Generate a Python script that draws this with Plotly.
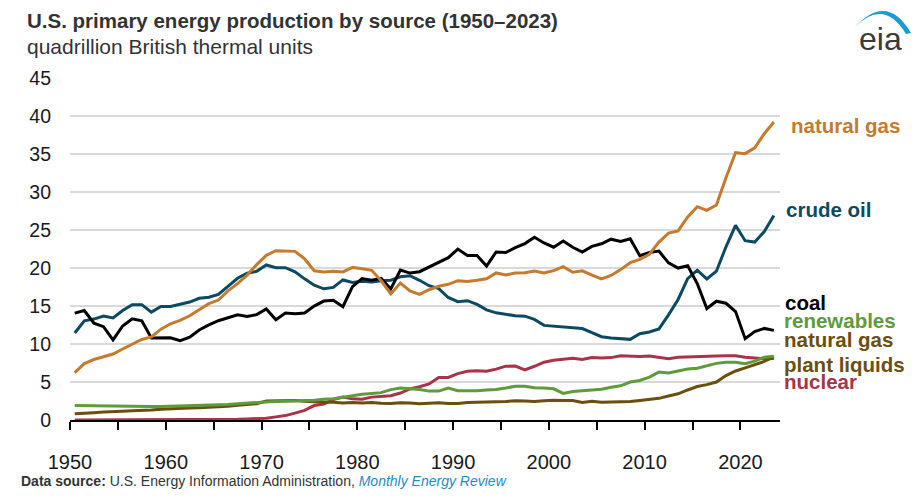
import plotly.graph_objects as go

# ---------------- data (quadrillion Btu) ----------------
years = list(range(1950, 2024))

coal = [14.06, 14.41, 12.73, 12.28, 10.54, 12.37, 13.31, 13.06, 10.78, 10.80,
        10.82, 10.45, 10.90, 11.85, 12.52, 13.06, 13.47, 13.83, 13.61, 13.86,
        14.61, 13.19, 14.09, 13.99, 14.07, 14.99, 15.65, 15.76, 14.91, 17.54,
        18.60, 18.38, 18.64, 17.25, 19.72, 19.33, 19.51, 20.14, 20.74, 21.36,
        22.49, 21.64, 21.63, 20.25, 22.11, 22.03, 22.68, 23.21, 24.05, 23.30,
        22.74, 23.55, 22.73, 22.09, 22.85, 23.19, 23.79, 23.49, 23.85, 21.62,
        22.04, 22.22, 20.68, 19.99, 20.29, 17.95, 14.67, 15.63, 15.36, 14.26,
        10.70, 11.63, 12.05, 11.79]

natural_gas = [6.23, 7.42, 7.96, 8.34, 8.68, 9.34, 10.00, 10.60, 10.94, 11.95,
               12.66, 13.11, 13.72, 14.51, 15.30, 15.78, 16.99, 17.94, 19.07, 20.45,
               21.67, 22.28, 22.21, 22.19, 21.21, 19.64, 19.48, 19.57, 19.49, 20.08,
               19.91, 19.70, 18.32, 16.59, 18.01, 16.98, 16.54, 17.14, 17.60, 17.85,
               18.33, 18.23, 18.38, 18.58, 19.35, 19.08, 19.34, 19.39, 19.61, 19.34,
               19.66, 20.17, 19.44, 19.63, 19.07, 18.56, 19.02, 19.79, 20.70, 21.14,
               21.81, 23.41, 24.59, 24.89, 26.72, 28.07, 27.58, 28.29, 31.88, 35.19,
               35.05, 35.81, 37.67, 39.22]

crude_oil = [11.45, 13.04, 13.28, 13.67, 13.43, 14.41, 15.18, 15.18, 14.20, 14.93,
             14.93, 15.22, 15.52, 16.02, 16.16, 16.52, 17.56, 18.65, 19.31, 19.56,
             20.40, 20.03, 20.04, 19.49, 18.57, 17.73, 17.26, 17.45, 18.43, 18.10,
             18.25, 18.15, 18.31, 18.39, 18.85, 18.99, 18.38, 17.67, 17.28, 16.12,
             15.57, 15.70, 15.22, 14.49, 14.10, 13.89, 13.72, 13.66, 13.24, 12.45,
             12.36, 12.28, 12.16, 12.03, 11.50, 10.96, 10.80, 10.72, 10.61, 11.35,
             11.59, 11.99, 13.84, 15.86, 18.60, 19.71, 18.56, 19.58, 22.79, 25.61,
             23.59, 23.41, 24.80, 26.90]

renewables = [1.90, 1.88, 1.85, 1.80, 1.76, 1.76, 1.76, 1.74, 1.76, 1.77,
              1.80, 1.82, 1.85, 1.88, 1.95, 2.00, 2.05, 2.15, 2.25, 2.35,
              2.38, 2.42, 2.45, 2.50, 2.58, 2.60, 2.72, 2.80, 3.00, 3.20,
              3.40, 3.50, 3.60, 4.00, 4.20, 4.10, 4.00, 3.80, 3.80, 4.20,
              3.85, 3.85, 3.85, 3.95, 4.00, 4.20, 4.45, 4.45, 4.25, 4.20,
              4.10, 3.50, 3.75, 3.85, 3.95, 4.05, 4.30, 4.50, 5.00, 5.20,
              5.65, 6.30, 6.20, 6.50, 6.70, 6.80, 7.15, 7.45, 7.60, 7.60,
              7.40, 7.75, 8.25, 8.40]

ngpl = [0.82, 0.93, 0.97, 1.04, 1.07, 1.16, 1.23, 1.24, 1.30, 1.40,
        1.48, 1.52, 1.57, 1.62, 1.66, 1.71, 1.80, 1.93, 2.02, 2.14,
        2.51, 2.54, 2.60, 2.57, 2.47, 2.37, 2.33, 2.33, 2.25, 2.29,
        2.25, 2.31, 2.19, 2.18, 2.27, 2.24, 2.15, 2.22, 2.26, 2.16,
        2.17, 2.31, 2.37, 2.41, 2.39, 2.44, 2.53, 2.50, 2.42, 2.53,
        2.61, 2.55, 2.56, 2.30, 2.47, 2.33, 2.36, 2.41, 2.42, 2.57,
        2.66, 2.85, 3.15, 3.45, 3.95, 4.40, 4.65, 5.00, 5.85, 6.45,
        6.85, 7.25, 7.70, 8.30]

nuclear = [0.00, 0.00, 0.00, 0.00, 0.00, 0.00, 0.00, 0.00, 0.00, 0.00,
           0.01, 0.02, 0.03, 0.04, 0.04, 0.04, 0.06, 0.09, 0.14, 0.15,
           0.24, 0.41, 0.58, 0.91, 1.27, 1.90, 2.11, 2.70, 3.02, 2.78,
           2.74, 3.01, 3.13, 3.20, 3.55, 4.08, 4.38, 4.75, 5.59, 5.60,
           6.10, 6.42, 6.48, 6.41, 6.69, 7.08, 7.09, 6.60, 7.07, 7.61,
           7.86, 8.03, 8.14, 7.96, 8.22, 8.16, 8.21, 8.46, 8.43, 8.36,
           8.43, 8.27, 8.06, 8.27, 8.33, 8.34, 8.43, 8.42, 8.44, 8.45,
           8.25, 8.13, 8.05, 8.10]

tick_years = list(range(1950, 2021, 5))
y_ticks = list(range(0, 46, 5))

# ---------------- styling ----------------
C_GAS = "#C57A2D"
C_OIL = "#0B4A61"
C_COAL = "#000000"
C_REN = "#5E9B3A"
C_NGPL = "#6B4F0E"
C_NUC = "#A8334A"

FONT = "Liberation Sans, Arial, Helvetica, sans-serif"
OFF = 8                      # page body margin
W, H = 914, 496              # figure size (fits 922x504 window with body margin)
L, R, T, B = 62, 142, 70, 84


def xp(px):
    """screen pixel x -> paper x"""
    return (px - OFF - L) / (W - L - R)


def yp(py):
    """screen pixel y -> paper y"""
    return (H - B - (py - OFF)) / (H - T - B)


xdates = [f"{y}-07-01" for y in years]

fig = go.Figure()
series = [
    ("nuclear", nuclear, C_NUC),
    ("natural gas plant liquids", ngpl, C_NGPL),
    ("renewables", renewables, C_REN),
    ("crude oil", crude_oil, C_OIL),
    ("coal", coal, C_COAL),
    ("natural gas", natural_gas, C_GAS),
]
for name, vals, col in series:
    fig.add_trace(go.Scatter(x=xdates, y=vals, mode="lines", name=name,
                             line=dict(color=col, width=3), hoverinfo="x+y"))

# right-side labels
labels = [
    ("natural gas", 38.7, C_GAS, 789),
    ("crude oil", 27.7, C_OIL, 784),
    ("coal", 15.5, C_COAL, 783),
    ("renewables", 13.1, C_REN, 782),
    ("natural gas", 10.6, C_NGPL, 782),
    ("plant liquids", 7.3, C_NGPL, 782),
    ("nuclear", 5.1, C_NUC, 782),
]
annotations = []
for txt, yv, col, px in labels:
    annotations.append(dict(text=f"<b>{txt}</b>", x=xp(px), y=yv, xref="paper", yref="y",
                            xanchor="left", yanchor="middle", showarrow=False,
                            font=dict(family=FONT, size=20.5, color=col)))

annotations += [
    dict(text="<b>U.S. primary energy production by source (1950–2023)</b>",
         x=xp(25), y=yp(21), xref="paper", yref="paper", xanchor="left", yanchor="middle",
         showarrow=False, font=dict(family=FONT, size=20.5, color="#333333")),
    dict(text="quadrillion British thermal units",
         x=xp(25), y=yp(46), xref="paper", yref="paper", xanchor="left", yanchor="middle",
         showarrow=False, font=dict(family=FONT, size=21, color="#333333")),
    dict(text="<b>Data source:</b> U.S. Energy Information Administration, "
              "<i><span style='color:#1F8BC4'>Monthly Energy Review</span></i>",
         x=xp(19), y=yp(481), xref="paper", yref="paper", xanchor="left", yanchor="middle",
         showarrow=False, font=dict(family=FONT, size=14, color="#333333")),
    dict(text="eia", x=xp(880), y=yp(39), xref="paper", yref="paper",
         xanchor="center", yanchor="middle", showarrow=False,
         font=dict(family=FONT, size=32, color="#3A3A3A")),
]


def P(px, py):
    return f"{xp(px):.5f},{yp(py):.5f}"


arc = (f"M {P(855, 27)} Q {P(887, -8)} {P(911, 33)} "
       f"L {P(906, 34)} Q {P(884, -2)} {P(855, 27)} Z")

fig.update_layout(
    width=W, height=H,
    margin=dict(l=L, r=R, t=T, b=B, pad=0),
    plot_bgcolor="white", paper_bgcolor="white",
    showlegend=False,
    annotations=annotations,
    shapes=[dict(type="path", path=arc, xref="paper", yref="paper",
                 fillcolor="#1C9AD6", line=dict(width=0))],
    xaxis=dict(
        type="date",
        range=["1950-01-01", "2024-02-20"],
        tickvals=[f"{y}-01-01" for y in tick_years],
        ticktext=[str(y) if y % 10 == 0 else "" for y in tick_years],
        ticks="outside", ticklen=8, tickwidth=1.5, tickcolor="#000000",
        ticklabelstandoff=15,
        showline=True, linecolor="#000000", linewidth=2,
        showgrid=False, zeroline=False,
        tickfont=dict(family=FONT, size=20, color="#1a1a1a"),
    ),
    yaxis=dict(
        range=[0, 45],
        tickvals=y_ticks,
        showgrid=True, gridcolor="#D9D9D9", gridwidth=2,
        zeroline=False, showline=False, ticks="",
        ticklabelstandoff=18,
        tickfont=dict(family=FONT, size=19.5, color="#1a1a1a"),
    ),
)

fig.write_html("out.html")
